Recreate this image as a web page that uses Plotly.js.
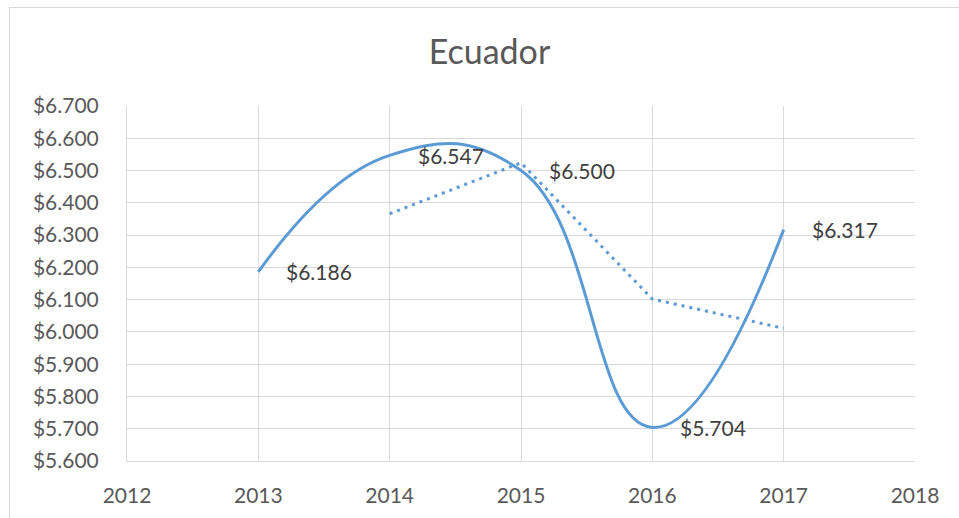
<!DOCTYPE html>
<html>
<head>
<meta charset="utf-8">
<script src="https://cdn.plot.ly/plotly-3.0.1.min.js"></script>
<style>
html,body{margin:0;padding:0;background:#fff;}
#chart{position:absolute;left:0;top:0;width:959px;height:518px;}
#frame{position:absolute;left:9px;top:7px;width:980px;height:540px;border:1px solid #d9d9d9;pointer-events:none;}
</style>
</head>
<body>
<div id="chart"></div>
<div id="frame"></div>
<script>
const years = [2013, 2014, 2015, 2016, 2017];
const values = [6.186, 6.547, 6.500, 5.704, 6.317];
const movingAvg = [null, 6.366, 6.524, 6.102, 6.011];
const yTicks = [5.6, 5.7, 5.8, 5.9, 6.0, 6.1, 6.2, 6.3, 6.4, 6.5, 6.6, 6.7];
const xTicks = [2012, 2013, 2014, 2015, 2016, 2017, 2018];

const fontFam = 'Lato, "Open Sans", sans-serif';
const lineColor = '#5B9BD5';

const traces = [
  {
    x: years, y: values, type: 'scatter', mode: 'lines',
    line: {color: lineColor, width: 3, shape: 'spline', smoothing: 1.3},
    hoverinfo: 'skip'
  },
  {
    x: years, y: movingAvg, type: 'scatter', mode: 'lines',
    line: {color: lineColor, width: 3, dash: '3px,5px'},
    hoverinfo: 'skip'
  }
];

const annotations = years.map((yr, i) => ({
  x: yr, y: values[i], xref: 'x', yref: 'y',
  text: '$' + values[i].toFixed(3),
  showarrow: false, xanchor: 'left', yanchor: 'middle', xshift: 26,
  font: {family: fontFam, size: 21, color: '#404040'}
}));

const layout = {
  width: 959, height: 518,
  margin: {l: 127, r: 44, t: 106, b: 57},
  paper_bgcolor: '#fff', plot_bgcolor: '#fff',
  showlegend: false,
  title: {text: 'Ecuador', x: 0.5104, xanchor: 'center', y: 0.9, yanchor: 'middle',
    font: {family: fontFam, size: 34, color: '#595959'}},
  xaxis: {
    range: [2012, 2018], tickvals: xTicks, ticktext: xTicks.map(String),
    showgrid: true, gridcolor: '#d9d9d9', gridwidth: 1,
    showline: true, linecolor: '#d9d9d9', linewidth: 1, zeroline: false,
    ticks: '', ticklabelstandoff: 16,
    tickfont: {family: fontFam, size: 21, color: '#595959'}
  },
  yaxis: {
    range: [5.6, 6.7], tickvals: yTicks, ticktext: yTicks.map(v => '$' + v.toFixed(3)),
    showgrid: true, gridcolor: '#d9d9d9', gridwidth: 1,
    showline: true, linecolor: '#d9d9d9', linewidth: 1, zeroline: false,
    ticks: '', ticklabelstandoff: 23,
    tickfont: {family: fontFam, size: 21, color: '#595959'}
  },
  annotations: annotations
};

Plotly.newPlot('chart', traces, layout, {staticPlot: true, displayModeBar: false});
</script>
</body>
</html>
